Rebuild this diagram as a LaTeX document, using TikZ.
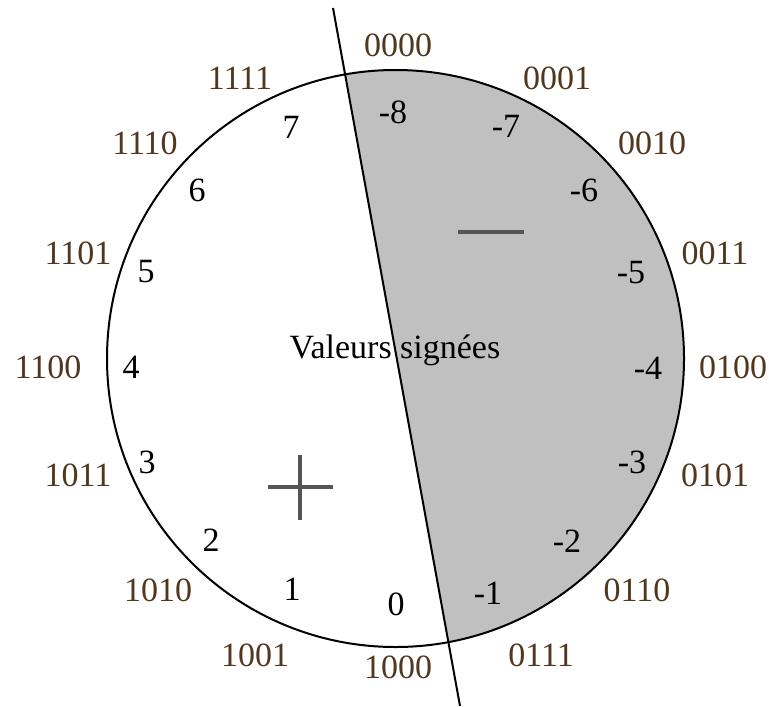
\documentclass[tikz,border=0pt]{standalone}
\usepackage{fontspec}
\setmainfont{Liberation Serif}
\definecolor{bincol}{RGB}{80,55,30}
\definecolor{fillgray}{RGB}{192,192,192}
\definecolor{signcol}{RGB}{85,85,85}
\begin{document}
\begin{tikzpicture}[x=0.5pt,y=-0.5pt,
  bin/.style={text=bincol,font=\fontsize{17}{20}\selectfont,inner sep=0pt},
  dec/.style={text=black,font=\fontsize{17}{20}\selectfont,inner sep=0pt},
  sign/.style={draw=signcol,line width=2pt}]
\useasboundingbox (0,0) rectangle (769,706);
\coordinate (c) at (395.5,358.5);
\coordinate (ltop) at (333,8);
\coordinate (lbot) at (460,706);
\begin{scope}
  \clip (c) circle[radius=288.5];
  \fill[fillgray] (ltop) -- (lbot) -- (769,706) -- (769,0) -- cycle;
\end{scope}
\draw[line width=1pt] (c) circle[radius=288.5];
\draw[line width=1pt] (ltop) -- (lbot);
% signs
\coordinate (pl) at (268,487); \coordinate (pr) at (333,487);
\coordinate (pt) at (300,455); \coordinate (pb) at (300,520);
\draw[sign] (pl) -- (pr);
\draw[sign] (pt) -- (pb);
\coordinate (ml) at (458,232); \coordinate (mr) at (524,232);
\draw[sign] (ml) -- (mr);
% center label
\node[dec] (title) at (395,350) {Valeurs signées};
% binary labels
\node[bin] (b0) at (398,45) {0000};
\node[bin] (b1) at (557,78) {0001};
\node[bin] (b2) at (652,143) {0010};
\node[bin] (b3) at (715,253) {0011};
\node[bin] (b4) at (733,367) {0100};
\node[bin] (b5) at (715,475) {0101};
\node[bin] (b6) at (637,590) {0110};
\node[bin] (b7) at (541,655) {0111};
\node[bin] (b8) at (398,667) {1000};
\node[bin] (b9) at (255,655) {1001};
\node[bin] (b10) at (158,590) {1010};
\node[bin] (b11) at (78,475) {1011};
\node[bin] (b12) at (48,367) {1100};
\node[bin] (b13) at (78,253) {1101};
\node[bin] (b14) at (145,143) {1110};
\node[bin] (b15) at (240,78) {1111};
% decimal labels
\node[dec] (d0) at (393,112) {-8};
\node[dec] (d1) at (506,126) {-7};
\node[dec] (d2) at (584,190) {-6};
\node[dec] (d3) at (631,273) {-5};
\node[dec] (d4) at (648,368) {-4};
\node[dec] (d5) at (632,462) {-3};
\node[dec] (d6) at (567,541) {-2};
\node[dec] (d7) at (488,593) {-1};
\node[dec] (d8) at (396,604) {0};
\node[dec] (d9) at (292,589) {1};
\node[dec] (d10) at (211,540) {2};
\node[dec] (d11) at (147,462) {3};
\node[dec] (d12) at (131,367) {4};
\node[dec] (d13) at (146,272) {5};
\node[dec] (d14) at (197,190) {6};
\node[dec] (d15) at (291,127) {7};
\end{tikzpicture}
\end{document}
